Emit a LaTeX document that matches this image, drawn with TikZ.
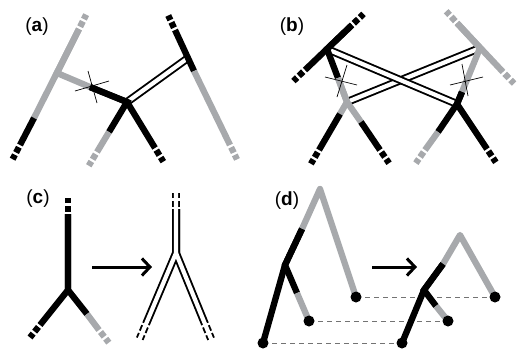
\documentclass[tikz,border=0pt]{standalone}
\usepackage{fontspec}
\setsansfont{Liberation Sans}
\usetikzlibrary{calc,arrows.meta}
\definecolor{tgray}{RGB}{167,169,172}
\begin{document}
\begin{tikzpicture}[x=1pt, y=-1pt,
  gline/.style={draw=tgray, line width=6.3pt},
  bline/.style={draw=black, line width=6.3pt},
  stub/.style={dash pattern=on 0pt off 2.5pt on 6pt off 2.5pt on 5pt off 30pt},
  dblout/.style={draw=black, line width=8pt},
  dblin/.style={draw=white, line width=4.2pt},
  cross/.style={draw=black, line width=0.7pt},
  conn/.style={draw=black!55, line width=1pt, dash pattern=on 5pt off 4pt},
  pointer/.style={draw=black, line width=3pt, -{Straight Barb[length=8pt,width=17pt]}},
  lbl/.style={font=\sffamily\fontsize{19}{19}\selectfont, inner sep=0pt}
]
\useasboundingbox (0,0) rectangle (520,354);

% (a)
\node[lbl] (la) at (37,27) {(\textbf{a})};
\coordinate (aLtop) at (79,29);
\coordinate (aLj) at (57,73);
\coordinate (aLgb) at (34,118);
\coordinate (aLbot) at (20,145);
\coordinate (aX) at (90,87);
\coordinate (aM) at (127,102);
\coordinate (aMlb) at (109,132);
\coordinate (aMl) at (97,152);
\coordinate (aMr) at (155,148);
\coordinate (aRtop) at (175,30);
\coordinate (aRj) at (188,58);
\coordinate (aRbg) at (194,71);
\coordinate (aRbot) at (230,145);

\draw[dblout] (aM) -- (aRj);
\draw[dblin] (aM) -- (aRj);
\draw[gline] (aLtop) -- (aLgb);
\draw[gline] (aLtop) -- (aLj) -- (aX);
\draw[bline] (aLgb) -- (aLbot);
\draw[gline,stub] (aLtop) -- ($(aLtop)!-16pt!(aLj)$);
\draw[bline,stub] (aLbot) -- ($(aLbot)!-16pt!(aLgb)$);
\draw[bline] (aX) -- (aM) -- (aMr);
\draw[bline] (aX) -- (aM) -- (aMlb);
\draw[gline] (aMlb) -- (aMl);
\draw[gline,stub] (aMl) -- ($(aMl)!-16pt!(aM)$);
\draw[bline,stub] (aMr) -- ($(aMr)!-16pt!(aM)$);
\draw[bline] (aRtop) -- (aRbg);
\draw[gline] (aRbg) -- (aRbot);
\draw[bline,stub] (aRtop) -- ($(aRtop)!-16pt!(aRj)$);
\draw[gline,stub] (aRbot) -- ($(aRbot)!-16pt!(aRbg)$);
\draw[cross] (75,91) -- (109,81);
\draw[cross] (88,71) -- (97,103);

% (b)
\node[lbl] (lb) at (292,27) {(\textbf{b})};
\coordinate (bLtop) at (352,25);
\coordinate (bLj) at (327,49);
\coordinate (bLbot) at (305,70);
\coordinate (bLbg) at (338,78);
\coordinate (bLm) at (347,102);
\coordinate (bLml) at (340,114);
\coordinate (bLmlend) at (319,150);
\coordinate (bLmr) at (361,122);
\coordinate (bLmrend) at (380,150);
\coordinate (bRtop) at (457,23);
\coordinate (bRj) at (480,48);
\coordinate (bRbot) at (503,72);
\coordinate (bRgb) at (462,92);
\coordinate (bRm) at (457,104);
\coordinate (bRml) at (438,132);
\coordinate (bRmlend) at (425,150);
\coordinate (bRmrend) at (487,149);

\draw[dblout] (bLm) -- (bRj);
\draw[dblin] (bLm) -- (bRj);
\draw[dblout] (bLj) -- (bRm);
\draw[dblin] (bLj) -- (bRm);
\draw[bline] (bLtop) -- (bLbot);
\draw[bline] (bLtop) -- (bLj) -- (bLbg);
\draw[bline,stub] (bLtop) -- ($(bLtop)!-16pt!(bLj)$);
\draw[bline,stub] (bLbot) -- ($(bLbot)!-16pt!(bLj)$);
\draw[gline] (bLbg) -- (bLm) -- (bLml);
\draw[gline] (bLbg) -- (bLm) -- (bLmr);
\draw[bline] (bLml) -- (bLmlend);
\draw[bline] (bLmr) -- (bLmrend);
\draw[bline,stub] (bLmlend) -- ($(bLmlend)!-16pt!(bLm)$);
\draw[bline,stub] (bLmrend) -- ($(bLmrend)!-16pt!(bLm)$);
\draw[gline] (bRtop) -- (bRbot);
\draw[gline] (bRtop) -- (bRj) -- (bRgb);
\draw[gline,stub] (bRtop) -- ($(bRtop)!-16pt!(bRj)$);
\draw[gline,stub] (bRbot) -- ($(bRbot)!-16pt!(bRj)$);
\draw[bline] (bRgb) -- (bRm) -- (bRml);
\draw[bline] (bRgb) -- (bRm) -- (bRmrend);
\draw[gline] (bRml) -- (bRmlend);
\draw[gline,stub] (bRmlend) -- ($(bRmlend)!-16pt!(bRm)$);
\draw[bline,stub] (bRmrend) -- ($(bRmrend)!-16pt!(bRm)$);
\draw[cross] (325,77) -- (357,85);
\draw[cross] (347,65) -- (337,97);
\draw[cross] (450,85) -- (483,77);
\draw[cross] (462,64) -- (468,96);

% (c)
\node[lbl] (lc) at (38,199) {(\textbf{c})};
\coordinate (cTop) at (68,214);
\coordinate (cJ) at (68,290);
\coordinate (cL) at (40,325);
\coordinate (cRbg) at (87,314);
\coordinate (cR) at (99,330);
\draw[bline] (cTop) -- (cJ) -- (cL);
\draw[bline] (cTop) -- (cJ) -- (cRbg);
\draw[gline] (cRbg) -- (cR);
\draw[bline,stub] (cTop) -- ($(cTop)!-16pt!(cJ)$);
\draw[bline,stub] (cL) -- ($(cL)!-16pt!(cJ)$);
\draw[gline,stub] (cR) -- ($(cR)!-16pt!(cJ)$);

\coordinate (cA1) at (92,267);
\coordinate (cA2) at (152,267);
\draw[pointer] (cA1) -- (cA2);

\coordinate (cdTop) at (176,209);
\coordinate (cdJ) at (176,253);
\coordinate (cdL) at (146,324);
\coordinate (cdR) at (205,324);
\draw[dblout] (cdTop) -- (cdJ) -- (cdL);
\draw[dblout] (cdTop) -- (cdJ) -- (cdR);
\draw[dblout,stub] (cdTop) -- ($(cdTop)!-16pt!(cdJ)$);
\draw[dblout,stub] (cdL) -- ($(cdL)!-16pt!(cdJ)$);
\draw[dblout,stub] (cdR) -- ($(cdR)!-16pt!(cdJ)$);
\draw[dblin] ($(cdTop)!-17pt!(cdJ)$) -- (cdJ) -- ($(cdL)!-17pt!(cdJ)$);
\draw[dblin] (cdJ) -- ($(cdR)!-17pt!(cdJ)$);

% (d)
\node[lbl] (ld) at (287,201) {(\textbf{d})};
\coordinate (dA) at (320,189);
\coordinate (dAgb) at (302,229);
\coordinate (dAj) at (285,265);
\coordinate (dAib) at (297,293);
\coordinate (dA1) at (356,297);
\coordinate (dA2) at (309,321);
\coordinate (dA3) at (263,343);
\coordinate (dB) at (460,235);
\coordinate (dBgb) at (443,264);
\coordinate (dBj) at (424,290);
\coordinate (dBib) at (436,306);
\coordinate (dB1) at (495,297);
\coordinate (dB2) at (448,321);
\coordinate (dB3) at (402,343);

\draw[conn] (dA1) -- (dB1);
\draw[conn] (dA2) -- (dB2);
\draw[conn] (dA3) -- (dB3);
\draw[gline, line join=round] (dAgb) -- (dA) -- (dA1);
\draw[bline] (dAgb) -- (dAj) -- (dA3);
\draw[bline] (dAgb) -- (dAj) -- (dAib);
\draw[gline] (dAib) -- (dA2);
\draw[gline, line join=round] (dBgb) -- (dB) -- (dB1);
\draw[bline] (dBgb) -- (dBj) -- (dB3);
\draw[bline] (dBgb) -- (dBj) -- (dBib);
\draw[gline] (dBib) -- (dB2);
\foreach \p in {dA1,dA2,dA3,dB1,dB2,dB3}
  \fill (\p) circle (5.5);

\coordinate (dP1) at (372,267);
\coordinate (dP2) at (417,267);
\draw[pointer] (dP1) -- (dP2);
\end{tikzpicture}
\end{document}
